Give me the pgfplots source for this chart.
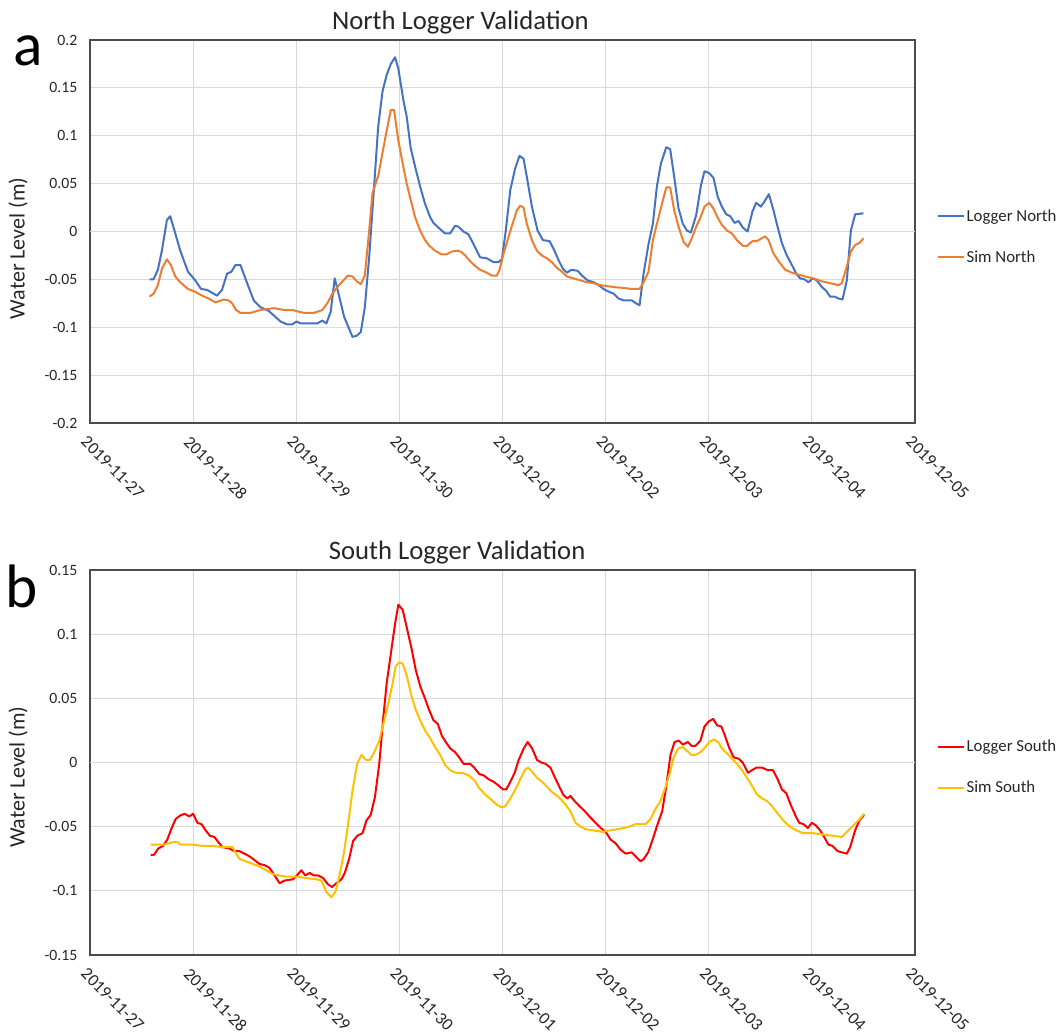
\documentclass[border=0pt]{standalone}
\usepackage{fontspec}
\setmainfont{Carlito}
\usepackage{pgfplots}
\pgfplotsset{compat=1.18}

\definecolor{lognorth}{RGB}{68,114,196}
\definecolor{simnorth}{RGB}{237,125,49}
\definecolor{logsouth}{RGB}{255,0,0}
\definecolor{simsouth}{RGB}{255,192,0}
\definecolor{gridgray}{RGB}{217,217,217}
\definecolor{zerogray}{RGB}{190,190,190}

% x is days since 2019-11-27 00:00
\pgfplotsset{
  validation/.style={
    scale only axis,
    width=618.75pt,
    xmin=0, xmax=8,
    xtick={0,1,2,3,4,5,6,7,8},
    xticklabels={2019-11-27,2019-11-28,2019-11-29,2019-11-30,2019-12-01,2019-12-02,2019-12-03,2019-12-04,2019-12-05},
    grid=major,
    major grid style={draw=gridgray, line width=0.7pt},
    axis line style={draw=black!70, line width=0.8pt},
    major tick length=0pt,
    tick label style={font=\fontsize{11.8}{12}\selectfont, text=black!85},
    xticklabel style={xshift=-1.5pt, yshift=-4pt, rotate=-45, anchor=north west, font=\fontsize{13}{14}\selectfont},
    yticklabel style={xshift=-6pt},
    ylabel={Water Level (m)},
    ylabel style={font=\fontsize{16.5}{17}\selectfont, text=black!85, anchor=center},
    title style={font=\fontsize{20}{21}\selectfont, text=black!85, anchor=base},
    legend style={draw=none, fill=none,
      font=\fontsize{12.6}{13}\selectfont, row sep=17.5pt, inner sep=0pt,
      nodes={inner sep=1.5pt, text=black!85}},
    legend cell align=left,
    legend image code/.code={\draw[##1, line width=1.5pt] (0pt,0pt) -- (19pt,0pt);},
    extra y ticks={0},
    extra y tick labels={},
    extra tick style={grid style={draw=zerogray, line width=0.8pt}},
    every axis plot/.append style={line width=1.5pt, mark=none, line join=round},
  }
}

\begin{document}
\begin{tikzpicture}

% ---------------- North logger ----------------
\begin{axis}[validation,
  at={(0pt,0pt)}, anchor=north west,
  height=287.25pt,
  ymin=-0.2, ymax=0.2,
  ytick={-0.2,-0.15,-0.1,-0.05,0,0.05,0.1,0.15,0.2},
  yticklabels={-0.2,-0.15,-0.1,-0.05,0,0.05,0.1,0.15,0.2},
  ylabel style={at={(axis description cs:-0.0873,0.456)}},
  title={North Logger Validation},
  title style={at={(axis description cs:0.449,1)}, yshift=2.25pt},
  legend style={at={(axis description cs:1.0267,0.486)}, anchor=west},
]
\addplot[color=lognorth] coordinates {
(0.577,-0.050) (0.616,-0.050) (0.658,-0.040) (0.697,-0.020) (0.746,0.012) (0.778,0.016)
(0.827,-0.002) (0.875,-0.020) (0.950,-0.042) (1.021,-0.051) (1.076,-0.060) (1.135,-0.061)
(1.232,-0.067) (1.280,-0.061) (1.329,-0.044) (1.371,-0.042) (1.410,-0.035) (1.459,-0.035)
(1.524,-0.054) (1.588,-0.072) (1.653,-0.079) (1.734,-0.083) (1.848,-0.094) (1.912,-0.097)
(1.961,-0.097) (2.003,-0.094) (2.042,-0.096) (2.204,-0.096) (2.253,-0.093) (2.292,-0.096)
(2.334,-0.084) (2.373,-0.049) (2.415,-0.067) (2.464,-0.089) (2.545,-0.110) (2.584,-0.109)
(2.626,-0.105) (2.665,-0.079) (2.707,-0.027) (2.755,0.047) (2.794,0.109) (2.836,0.146)
(2.875,0.163) (2.917,0.175) (2.958,0.182) (2.990,0.170) (3.039,0.137) (3.071,0.120)
(3.110,0.087) (3.152,0.068) (3.201,0.047) (3.249,0.029) (3.298,0.015) (3.330,0.009)
(3.379,0.004) (3.443,-0.002) (3.492,-0.002) (3.541,0.006) (3.573,0.005) (3.621,0.000)
(3.670,-0.003) (3.718,-0.013) (3.783,-0.027) (3.848,-0.028) (3.913,-0.032) (3.961,-0.032)
(3.994,-0.029) (4.032,0.001) (4.075,0.043) (4.123,0.066) (4.165,0.079) (4.204,0.076)
(4.236,0.057) (4.285,0.026) (4.340,0.001) (4.392,-0.009) (4.456,-0.010) (4.495,-0.018)
(4.544,-0.030) (4.586,-0.039) (4.625,-0.043) (4.667,-0.040) (4.728,-0.041) (4.770,-0.046)
(4.825,-0.051) (4.884,-0.053) (4.932,-0.056) (4.981,-0.060) (5.013,-0.062) (5.078,-0.065)
(5.126,-0.070) (5.175,-0.072) (5.255,-0.072) (5.294,-0.075) (5.329,-0.077) (5.368,-0.044)
(5.416,-0.013) (5.458,0.008) (5.497,0.047) (5.536,0.071) (5.588,0.088) (5.626,0.086)
(5.665,0.057) (5.707,0.024) (5.749,0.008) (5.788,0.001) (5.827,-0.001) (5.878,0.017)
(5.924,0.048) (5.959,0.063) (6.004,0.061) (6.046,0.056) (6.088,0.036) (6.127,0.026)
(6.169,0.018) (6.208,0.016) (6.250,0.009) (6.289,0.011) (6.331,0.004) (6.376,0.000)
(6.424,0.021) (6.460,0.030) (6.505,0.026) (6.538,0.031) (6.583,0.039) (6.628,0.022)
(6.667,0.005) (6.709,-0.012) (6.757,-0.025) (6.806,-0.035) (6.848,-0.044) (6.887,-0.049)
(6.929,-0.050) (6.967,-0.053) (7.009,-0.049) (7.048,-0.051) (7.097,-0.058) (7.139,-0.062)
(7.177,-0.068) (7.219,-0.068) (7.258,-0.070) (7.297,-0.071) (7.339,-0.051) (7.378,0.001)
(7.420,0.018) (7.500,0.019)
};
\addlegendentry{Logger North}
\addplot[color=simnorth] coordinates {
(0.577,-0.068) (0.616,-0.065) (0.658,-0.056) (0.697,-0.039) (0.746,-0.029) (0.784,-0.035)
(0.827,-0.047) (0.875,-0.053) (0.950,-0.060) (1.021,-0.063) (1.086,-0.067) (1.151,-0.070)
(1.216,-0.074) (1.297,-0.071) (1.345,-0.072) (1.378,-0.075) (1.417,-0.082) (1.459,-0.085)
(1.556,-0.085) (1.653,-0.082) (1.783,-0.080) (1.880,-0.082) (1.961,-0.082) (2.075,-0.085)
(2.172,-0.085) (2.253,-0.082) (2.301,-0.075) (2.350,-0.065) (2.415,-0.056) (2.457,-0.051)
(2.502,-0.046) (2.545,-0.047) (2.587,-0.052) (2.626,-0.055) (2.665,-0.046) (2.707,0.001)
(2.739,0.040) (2.797,0.059) (2.836,0.082) (2.878,0.106) (2.917,0.127) (2.948,0.127)
(2.990,0.095) (3.032,0.071) (3.071,0.050) (3.110,0.033) (3.152,0.015) (3.201,0.001)
(3.249,-0.009) (3.291,-0.015) (3.346,-0.020) (3.411,-0.024) (3.453,-0.024) (3.508,-0.021)
(3.557,-0.020) (3.596,-0.021) (3.638,-0.025) (3.686,-0.031) (3.735,-0.036) (3.783,-0.040)
(3.848,-0.043) (3.896,-0.046) (3.945,-0.046) (3.971,-0.040) (4.010,-0.023) (4.058,-0.006)
(4.100,0.009) (4.139,0.022) (4.172,0.027) (4.204,0.025) (4.236,0.008) (4.285,-0.009)
(4.333,-0.020) (4.382,-0.025) (4.430,-0.028) (4.479,-0.032) (4.528,-0.038) (4.576,-0.042)
(4.625,-0.047) (4.689,-0.049) (4.754,-0.051) (4.819,-0.053) (4.884,-0.054) (4.948,-0.056)
(5.013,-0.057) (5.078,-0.058) (5.175,-0.059) (5.256,-0.060) (5.329,-0.060) (5.368,-0.053)
(5.416,-0.042) (5.458,-0.009) (5.497,0.008) (5.546,0.029) (5.588,0.046) (5.626,0.046)
(5.665,0.022) (5.707,0.005) (5.756,-0.011) (5.798,-0.016) (5.836,-0.007) (5.878,0.005)
(5.917,0.014) (5.959,0.026) (6.004,0.030) (6.046,0.024) (6.088,0.014) (6.127,0.007)
(6.176,0.001) (6.224,-0.002) (6.273,-0.009) (6.331,-0.015) (6.370,-0.015) (6.424,-0.010)
(6.467,-0.010) (6.547,-0.005) (6.580,-0.009) (6.628,-0.023) (6.677,-0.031) (6.741,-0.040)
(6.806,-0.043) (6.870,-0.045) (6.935,-0.047) (7.016,-0.049) (7.097,-0.052) (7.177,-0.054)
(7.258,-0.056) (7.290,-0.054) (7.332,-0.039) (7.378,-0.021) (7.420,-0.014) (7.462,-0.012)
(7.500,-0.007)
};
\addlegendentry{Sim North}
\end{axis}

% ---------------- South logger ----------------
\begin{axis}[validation,
  at={(0pt,-397.5pt)}, anchor=north west,
  height=288.75pt,
  ymin=-0.15, ymax=0.15,
  ytick={-0.15,-0.1,-0.05,0,0.05,0.1,0.15},
  yticklabels={-0.15,-0.1,-0.05,0,0.05,0.1,0.15},
  ylabel style={at={(axis description cs:-0.0873,0.462)}},
  title={South Logger Validation},
  title style={at={(axis description cs:0.445,1)}, yshift=2.25pt},
  legend style={at={(axis description cs:1.0267,0.488)}, anchor=west},
]
\addplot[color=logsouth] coordinates {
(0.588,-0.072) (0.620,-0.072) (0.662,-0.067) (0.708,-0.065) (0.750,-0.060) (0.792,-0.051)
(0.831,-0.044) (0.880,-0.041) (0.919,-0.040) (0.961,-0.042) (1.000,-0.040) (1.042,-0.047)
(1.081,-0.048) (1.123,-0.053) (1.162,-0.057) (1.205,-0.058) (1.244,-0.062) (1.286,-0.066)
(1.351,-0.067) (1.399,-0.069) (1.448,-0.069) (1.497,-0.071) (1.545,-0.073) (1.594,-0.076)
(1.643,-0.079) (1.692,-0.080) (1.740,-0.082) (1.789,-0.088) (1.838,-0.094) (1.886,-0.092)
(1.968,-0.091) (2.006,-0.088) (2.049,-0.084) (2.088,-0.088) (2.130,-0.086) (2.169,-0.088)
(2.211,-0.088) (2.260,-0.090) (2.308,-0.095) (2.347,-0.097) (2.390,-0.094) (2.438,-0.091)
(2.471,-0.086) (2.513,-0.075) (2.552,-0.061) (2.594,-0.057) (2.643,-0.055) (2.682,-0.045)
(2.721,-0.041) (2.763,-0.027) (2.805,-0.001) (2.844,0.035) (2.877,0.062) (2.909,0.080)
(2.942,0.099) (2.958,0.108) (2.990,0.123) (3.032,0.119) (3.078,0.103) (3.120,0.088)
(3.159,0.072) (3.204,0.059) (3.243,0.051) (3.288,0.041) (3.330,0.033) (3.373,0.030)
(3.411,0.021) (3.450,0.016) (3.493,0.011) (3.541,0.008) (3.580,0.004) (3.622,-0.001)
(3.687,-0.001) (3.726,-0.004) (3.775,-0.009) (3.817,-0.010) (3.865,-0.013) (3.914,-0.015)
(3.962,-0.018) (4.005,-0.021) (4.037,-0.021) (4.076,-0.015) (4.118,-0.008) (4.157,0.002)
(4.206,0.011) (4.244,0.016) (4.287,0.011) (4.335,0.002) (4.377,0.000) (4.416,-0.001)
(4.465,-0.004) (4.504,-0.011) (4.546,-0.018) (4.588,-0.025) (4.627,-0.028) (4.659,-0.026)
(4.698,-0.030) (4.747,-0.034) (4.799,-0.038) (4.854,-0.043) (4.903,-0.047) (4.952,-0.051)
(5.000,-0.054) (5.048,-0.060) (5.097,-0.063) (5.145,-0.068) (5.194,-0.071) (5.252,-0.070)
(5.290,-0.073) (5.339,-0.077) (5.371,-0.075) (5.413,-0.070) (5.452,-0.061) (5.500,-0.049)
(5.548,-0.038) (5.587,-0.019) (5.629,0.006) (5.668,0.016) (5.710,0.017) (5.748,0.014)
(5.797,0.016) (5.832,0.013) (5.871,0.013) (5.919,0.017) (5.958,0.028) (6.000,0.032)
(6.042,0.034) (6.081,0.029) (6.123,0.028) (6.161,0.020) (6.200,0.011) (6.242,0.004)
(6.290,0.003) (6.329,0.000) (6.381,-0.008) (6.419,-0.006) (6.461,-0.004) (6.516,-0.004)
(6.574,-0.006) (6.623,-0.006) (6.668,-0.013) (6.710,-0.021) (6.752,-0.024) (6.790,-0.032)
(6.839,-0.041) (6.877,-0.047) (6.919,-0.048) (6.961,-0.051) (7.000,-0.047) (7.039,-0.049)
(7.081,-0.053) (7.119,-0.058) (7.161,-0.064) (7.200,-0.065) (7.248,-0.069) (7.290,-0.070)
(7.339,-0.071) (7.371,-0.066) (7.419,-0.053) (7.461,-0.045) (7.506,-0.041)
};
\addlegendentry{Logger South}
\addplot[color=simsouth] coordinates {
(0.588,-0.064) (0.718,-0.064) (0.766,-0.063) (0.808,-0.062) (0.847,-0.062) (0.880,-0.064)
(0.994,-0.064) (1.091,-0.065) (1.188,-0.065) (1.286,-0.066) (1.383,-0.066) (1.416,-0.071)
(1.448,-0.075) (1.513,-0.077) (1.578,-0.079) (1.643,-0.081) (1.708,-0.084) (1.773,-0.087)
(1.838,-0.088) (1.903,-0.089) (2.000,-0.089) (2.097,-0.090) (2.195,-0.091) (2.244,-0.092)
(2.292,-0.101) (2.341,-0.105) (2.383,-0.100) (2.422,-0.087) (2.461,-0.071) (2.503,-0.048)
(2.545,-0.022) (2.591,-0.001) (2.633,0.006) (2.675,0.002) (2.714,0.002) (2.756,0.008)
(2.805,0.017) (2.844,0.030) (2.893,0.046) (2.935,0.062) (2.964,0.075) (2.997,0.078)
(3.032,0.077) (3.071,0.068) (3.120,0.051) (3.159,0.041) (3.201,0.033) (3.249,0.025)
(3.298,0.019) (3.347,0.012) (3.395,0.006) (3.444,-0.002) (3.492,-0.006) (3.548,-0.008)
(3.606,-0.008) (3.671,-0.010) (3.729,-0.014) (3.775,-0.020) (3.833,-0.025) (3.891,-0.029)
(3.946,-0.033) (3.995,-0.035) (4.027,-0.034) (4.076,-0.028) (4.125,-0.021) (4.173,-0.013)
(4.215,-0.006) (4.248,-0.004) (4.287,-0.007) (4.335,-0.012) (4.384,-0.015) (4.433,-0.019)
(4.481,-0.023) (4.546,-0.027) (4.604,-0.032) (4.659,-0.038) (4.708,-0.047) (4.757,-0.050)
(4.805,-0.052) (4.886,-0.053) (4.967,-0.054) (5.032,-0.053) (5.113,-0.052) (5.178,-0.051)
(5.227,-0.050) (5.291,-0.048) (5.340,-0.048) (5.387,-0.048) (5.436,-0.044) (5.484,-0.036)
(5.532,-0.030) (5.581,-0.019) (5.619,-0.009) (5.661,0.004) (5.703,0.011) (5.748,0.012)
(5.790,0.009) (5.829,0.006) (5.871,0.006) (5.919,0.008) (5.968,0.012) (6.006,0.016)
(6.048,0.018) (6.090,0.016) (6.129,0.011) (6.177,0.007) (6.226,0.003) (6.274,-0.001)
(6.323,-0.006) (6.371,-0.012) (6.419,-0.018) (6.468,-0.025) (6.516,-0.028) (6.565,-0.030)
(6.613,-0.034) (6.661,-0.039) (6.710,-0.044) (6.758,-0.048) (6.806,-0.051) (6.855,-0.053)
(6.910,-0.055) (7.000,-0.055) (7.097,-0.056) (7.194,-0.057) (7.290,-0.058) (7.339,-0.054)
(7.403,-0.049) (7.452,-0.045) (7.506,-0.040)
};
\addlegendentry{Sim South}
\end{axis}

% panel letters
\node[anchor=base west, inner sep=0pt, font=\fontsize{46}{46}\selectfont] at (-57.75pt,-18.75pt) {a};
\node[anchor=base west, inner sep=0pt, font=\fontsize{46}{46}\selectfont] at (-63.75pt,-425.25pt) {b};

\pgfresetboundingbox
\useasboundingbox (-67.5pt,30pt) rectangle (729pt,-746.25pt);
\end{tikzpicture}
\end{document}
